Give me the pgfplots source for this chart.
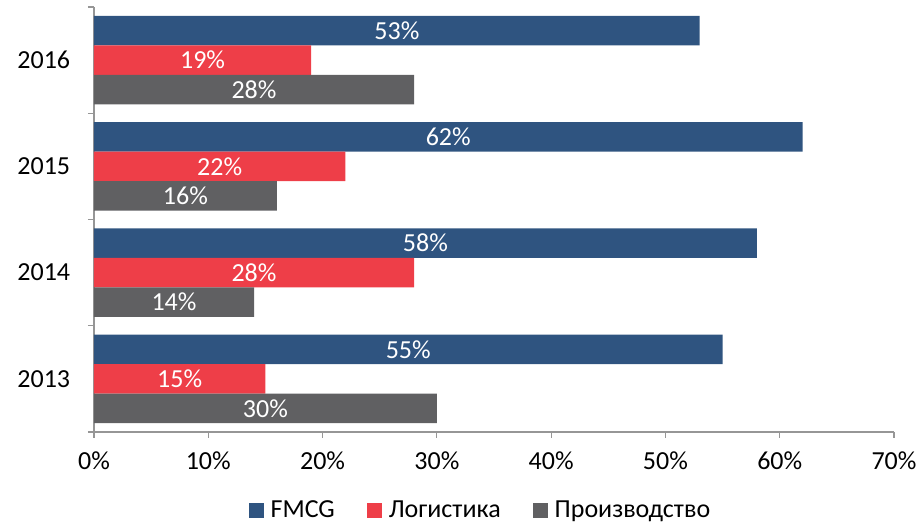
\documentclass[border=0pt]{standalone}
\usepackage{pgfplots}
\pgfplotsset{compat=1.18}
\usepackage{fontspec}
\setmainfont{Carlito}
\definecolor{cblue}{RGB}{47,84,128}
\definecolor{cred}{RGB}{238,62,72}
\definecolor{cgray}{RGB}{96,96,98}
\definecolor{caxis}{RGB}{150,150,150}
\begin{document}
\fontsize{26pt}{31pt}\selectfont
\begin{tikzpicture}
\begin{axis}[
  at={(0,0)}, anchor=south west,
  scale only axis, width=800pt, height=425pt,
  xbar, bar width=0.278,
  xmin=0, xmax=70, ymin=-0.5, ymax=3.5,
  axis lines*=left,
  axis line style={caxis, line width=1.2pt},
  every tick/.style={caxis, line width=1.2pt},
  tick align=outside,
  xtick={0,10,...,70},
  xticklabel={\pgfmathprintnumber{\tick}\%},
  /pgf/number format/assume math mode=true,
  x tick label style={yshift=-5pt},
  ytick={0,1,2,3},
  yticklabels={2013,2014,2015,2016},
  major y tick style={draw=none},
  minor ytick={-0.5,0.5,1.5,2.5,3.5},
  minor tick length=6pt,
  major tick length=6pt,
  y tick label style={xshift=-9pt},
  tick label style={font=\fontsize{26pt}{31pt}\selectfont},
  visualization depends on={rawx \as \rawx},
  nodes near coords={\pgfmathprintnumber{\rawx}\%},
  every node near coord/.append style={anchor=center, text=white,
     font=\fontsize{26pt}{31pt}\selectfont, xshift=-\rawx*5.7142857pt},
  legend style={at={(0.483,-0.185)}, anchor=center, draw=none,
     legend columns=3, font=\fontsize{26pt}{31pt}\selectfont,
     /tikz/every odd column/.append style={column sep=5pt},
     /tikz/every even column/.append style={column sep=30pt}},
  legend image code/.code={\fill[#1] (0pt,-7.5pt) rectangle (15pt,7.5pt);},
]
\addplot[fill=cblue, draw=none, bar shift=0.278] coordinates {(55,0) (58,1) (62,2) (53,3)};
\addlegendentry{FMCG}
\addplot[fill=cred, draw=none, bar shift=0] coordinates {(15,0) (28,1) (22,2) (19,3)};
\addlegendentry{Логистика}
\addplot[fill=cgray, draw=none, bar shift=-0.278] coordinates {(30,0) (14,1) (16,2) (28,3)};
\addlegendentry{Производство}
\end{axis}
\pgfresetboundingbox
\path (-94pt,-94pt) rectangle (829pt,432pt);
\end{tikzpicture}
\end{document}
